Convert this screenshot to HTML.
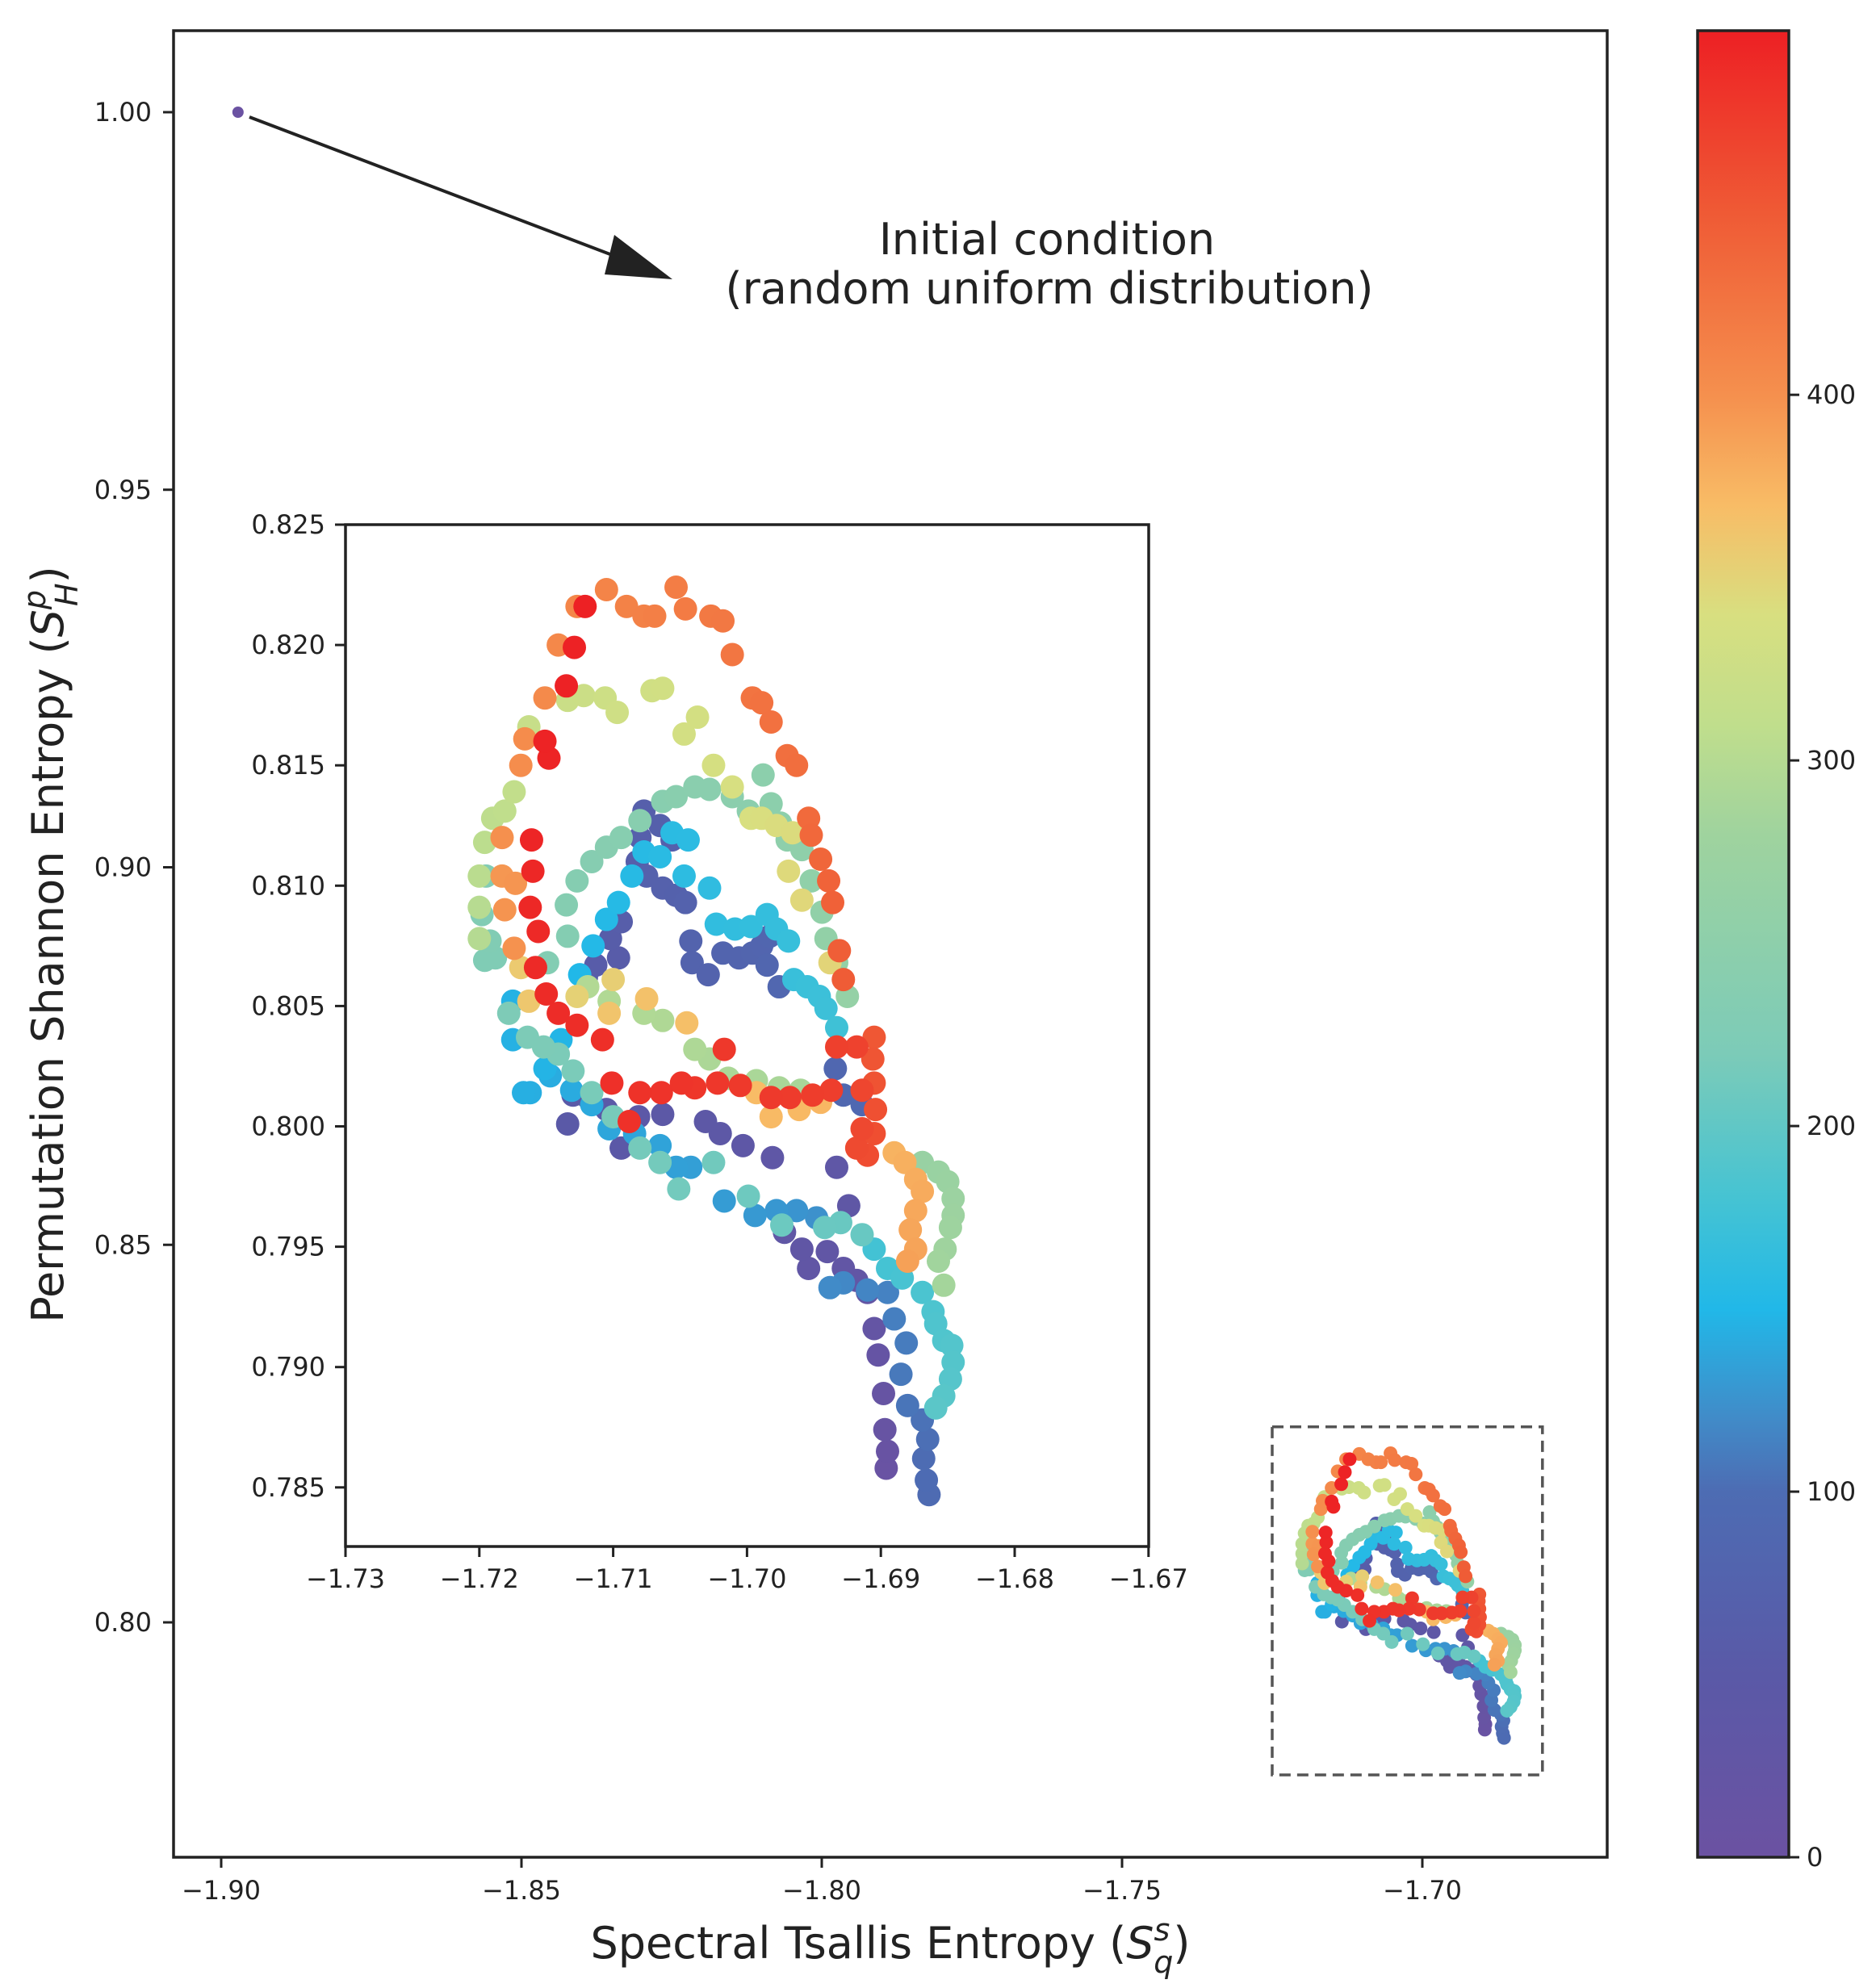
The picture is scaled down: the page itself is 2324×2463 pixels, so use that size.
<!DOCTYPE html>
<html><head><meta charset="utf-8"><style>
html,body{margin:0;padding:0;background:#fff;}
svg{display:block;font-family:"DejaVu Sans","Liberation Sans",sans-serif;}
</style></head><body>
<svg id="fig" width="2324" height="2463" viewBox="0 0 2324 2463" xmlns="http://www.w3.org/2000/svg">
<defs>
<linearGradient id="cbgrad" x1="0" y1="1" x2="0" y2="0">
<stop offset="0" stop-color="#6b52a2"/><stop offset="0.1" stop-color="#5a59a7"/><stop offset="0.2" stop-color="#4d6cb3"/><stop offset="0.24" stop-color="#418bc8"/><stop offset="0.3" stop-color="#21b8e8"/><stop offset="0.36" stop-color="#45c3d3"/><stop offset="0.44" stop-color="#7ccbb8"/><stop offset="0.56" stop-color="#9fd39e"/><stop offset="0.62" stop-color="#c0de8c"/><stop offset="0.68" stop-color="#d8df80"/><stop offset="0.74" stop-color="#f8bc66"/><stop offset="0.8" stop-color="#f5904e"/><stop offset="0.9" stop-color="#ef5a35"/><stop offset="1" stop-color="#ed2024"/>
</linearGradient>
</defs>
<rect x="0" y="0" width="2324" height="2463" fill="#fff"/>
<g id="main"></g>
<g id="inset"></g>
<g id="cbar"></g>
</svg>
<script>
// ---- data (inset-zoom region trajectory; t = time index) ----
const xs = [-1.6896,-1.6895,-1.6897,-1.6898,-1.6902,-1.6905,-1.691,-1.6918,-1.6928,-1.6940,-1.6954,-1.6959,-1.6972,-1.6924,-1.6981,-1.6933,-1.7003,-1.7020,-1.7031,-1.7063,-1.7081,-1.7094,-1.7105,-1.7119,-1.7134,-1.7130,
-1.7120,-1.7113,-1.7096,-1.7102,-1.7094,-1.7082,-1.7080,-1.7077,-1.7065,-1.7056,-1.7075,-1.7063,-1.7053,-1.7046,-1.7042,-1.7041,-1.7029,-1.7018,-1.7006,-1.6996,-1.6989,-1.6983,-1.6985,-1.6976,-1.6934,-1.6928,-1.6914,
-1.6864,-1.6866,-1.6868,-1.6865,-1.6869,-1.6880,-1.6885,-1.6881,-1.6890,-1.6895,-1.6910,-1.6928,-1.6938,
-1.6948,-1.6963,-1.6978,-1.6994,-1.7017,-1.7042,-1.7053,-1.7065,-1.7084,-1.7103,-1.7116,-1.7131,-1.7147,-1.7162,-1.7167,-1.7175,-1.7175,-1.7151,-1.7139,-1.7125,
-1.7115,-1.7105,-1.7096,-1.7086,-1.7077,-1.7065,-1.7056,-1.7044,-1.7047,-1.7028,-1.7023,-1.7009,-1.6997,-1.6985,-1.6978,-1.6969,-1.6965,-1.6955,-1.6946,-1.6941,-1.6933,
-1.6905,-1.6895,-1.6884,-1.6869,-1.6861,-1.6859,-1.6853,-1.6847,-1.6846,-1.6848,-1.6853,-1.6859,
-1.6914,-1.6930,-1.6942,-1.6974,-1.6999,-1.7025,-1.7051,-1.7065,-1.7080,-1.7100,-1.7116,-1.7130,-1.7141,-1.7152,-1.7164,-1.7178,-1.7196,-1.7188,-1.7192,-1.7198,-1.7195,
-1.7149,-1.7134,-1.7135,-1.7127,-1.7116,-1.7105,-1.7094,-1.7080,-1.7063,-1.7053,-1.7039,-1.7028,-1.7011,-1.6999,-1.6988,-1.6982,-1.6975,-1.6970,-1.6959,-1.6952,-1.6944,-1.6941,-1.6933,-1.6925,
-1.6869,-1.6857,-1.6850,-1.6846,-1.6846,-1.6848,-1.6852,-1.6857,-1.6853,
-1.6960,-1.6976,-1.6993,-1.7014,-1.7028,-1.7039,-1.7063,-1.7077,-1.7103,-1.7119,
-1.7200,-1.7200,-1.7200,-1.7196,-1.7190,-1.7181,-1.7174,
-1.7163,-1.7134,-1.7122,-1.7106,-1.7097,-1.7071,-1.7063,-1.7047,-1.7037,-1.7025,-1.7011,-1.6997,-1.6989,-1.6978,-1.6966,-1.6969,-1.6959,-1.6938,-1.7127,-1.7100,
-1.7169,-1.7163,-1.7103,-1.7075,-1.7045,-1.6993,-1.6982,-1.6961,-1.6945,-1.6890,-1.6882,-1.6874,-1.6869,-1.6874,-1.6878,-1.6874,-1.6880,
-1.7183,-1.7173,-1.7181,-1.7174,-1.7183,-1.7169,-1.7166,-1.7151,-1.7141,-1.7127,-1.7105,-1.7090,-1.7077,-1.7069,-1.7053,-1.7046,-1.7027,-1.7018,-1.7011,-1.6996,-1.6989,-1.6982,-1.6970,-1.6963,
-1.6954,-1.6952,-1.6945,-1.6939,-1.6936,-1.6931,-1.6928,-1.6905,-1.6906,-1.6905,-1.6904,-1.6905,-1.6910,-1.6918,-1.6914,-1.6914,
-1.6918,-1.6933,-1.6937,-1.6951,-1.6968,-1.6982,-1.7005,-1.7017,-1.7022,-1.7039,-1.7049,-1.7064,-1.7080,-1.7088,-1.7101,-1.7108,-1.7127,-1.7141,-1.7150,-1.7158,-1.7156,-1.7162,-1.7160,-1.7161,-1.7148,-1.7151,-1.7135,-1.7129,-1.7121];
const ys = [0.7858,0.7865,0.7874,0.7889,0.7905,0.7916,0.7931,0.7936,0.7941,0.7948,0.7941,0.7949,0.7956,0.7967,0.7987,0.7983,0.7992,0.7997,0.8002,0.8005,0.8004,0.7991,0.8007,0.8012,0.8001,0.8013,
0.8062,0.8067,0.8070,0.8078,0.8085,0.8110,0.8120,0.8131,0.8125,0.8119,0.8104,0.8099,0.8096,0.8093,0.8077,0.8068,0.8063,0.8072,0.8070,0.8072,0.8075,0.8079,0.8067,0.8058,0.8024,0.8013,0.8009,
0.7847,0.7853,0.7862,0.7870,0.7878,0.7884,0.7897,0.7910,0.7920,0.7931,0.7932,0.7935,0.7933,
0.7962,0.7965,0.7965,0.7963,0.7969,0.7983,0.7983,0.7992,0.7997,0.7999,0.8009,0.8015,0.8021,0.8014,0.8014,0.8036,0.8052,0.8024,0.8036,0.8063,
0.8075,0.8086,0.8093,0.8104,0.8114,0.8112,0.8122,0.8119,0.8104,0.8099,0.8084,0.8082,0.8083,0.8088,0.8082,0.8077,0.8061,0.8058,0.8054,0.8049,0.8041,
0.7949,0.7941,0.7937,0.7931,0.7923,0.7918,0.7911,0.7909,0.7902,0.7895,0.7888,0.7883,
0.7955,0.7960,0.7958,0.7959,0.7971,0.7985,0.7974,0.7985,0.7991,0.8004,0.8014,0.8023,0.8030,0.8033,0.8037,0.8047,0.8069,0.8070,0.8077,0.8088,0.8104,
0.8068,0.8079,0.8092,0.8102,0.8110,0.8116,0.8120,0.8127,0.8135,0.8137,0.8141,0.8140,0.8137,0.8131,0.8146,0.8134,0.8126,0.8119,0.8115,0.8102,0.8089,0.8078,0.8068,0.8054,
0.7985,0.7981,0.7977,0.7970,0.7963,0.7958,0.7949,0.7944,0.7934,
0.8015,0.8016,0.8019,0.8020,0.8028,0.8032,0.8044,0.8047,0.8052,0.8058,
0.8078,0.8091,0.8104,0.8118,0.8128,0.8131,0.8139,
0.8166,0.8177,0.8179,0.8178,0.8172,0.8181,0.8182,0.8163,0.8170,0.8150,0.8141,0.8128,0.8128,0.8125,0.8122,0.8106,0.8094,0.8068,0.8054,0.8061,
0.8066,0.8052,0.8047,0.8053,0.8043,0.8014,0.8004,0.8007,0.8010,0.7989,0.7985,0.7978,0.7973,0.7965,0.7957,0.7949,0.7944,
0.8104,0.8101,0.8090,0.8074,0.8120,0.8150,0.8161,0.8178,0.8200,0.8216,0.8223,0.8216,0.8212,0.8212,0.8224,0.8215,0.8212,0.8210,0.8196,0.8178,0.8176,0.8168,0.8154,0.8150,
0.8128,0.8121,0.8111,0.8102,0.8093,0.8073,0.8061,0.8037,0.8028,0.8018,0.8007,0.7997,0.7988,0.7991,0.7999,0.8015,
0.8033,0.8033,0.8015,0.8013,0.8012,0.8012,0.8017,0.8032,0.8018,0.8016,0.8018,0.8014,0.8014,0.8002,0.8018,0.8036,0.8042,0.8047,0.8055,0.8066,0.8081,0.8091,0.8106,0.8119,0.8153,0.8160,0.8183,0.8199,0.8216];
const ts = [5,8,11,14,17,20,23,25,27,29,30,31,33,34,35,36,38,40,42,44,45,46,47,48,49,50,
55,57,59,60,62,64,65,66,68,69,70,71,72,73,75,76,77,79,80,81,82,83,84,86,88,89,90,
96,98,100,102,104,106,108,110,112,114,116,118,120,
124,126,128,129,131,133,134,136,137,138,140,141,142,143,144,145,146,147,148,150,
152,153,154,155,156,157,158,159,160,162,163,164,165,166,167,168,170,171,172,173,175,
178,180,182,184,186,187,188,190,191,192,194,196,
205,206,207,208,210,212,213,214,215,217,218,219,220,221,222,223,226,227,228,229,230,
232,234,235,236,237,238,239,240,241,242,243,244,245,246,247,248,249,250,252,254,256,258,260,262,
268,270,272,274,276,278,280,282,284,
288,289,290,291,292,293,294,295,296,297,
300,302,304,306,308,310,312,
318,322,324,326,328,330,331,333,334,336,338,340,341,342,343,345,347,349,352,354,
358,360,363,365,367,370,371,372,373,376,378,380,381,383,385,386,388,
395,396,397,398,400,402,403,405,407,409,411,413,414,415,417,419,421,422,424,426,427,428,430,431,
435,437,439,441,443,446,448,452,454,456,458,460,462,463,465,467,
470,472,474,475,476,477,478,479,480,481,482,483,484,485,486,487,488,489,490,491,492,493,494,495,496,497,498,498,499];
const initX = -1.8972, initY = 1.0, initT = 0;
const mainXTicks = [-1.90,-1.85,-1.80,-1.75,-1.70];
const mainYTicks = [0.80,0.85,0.90,0.95,1.00];
const insetXTicks = [-1.73,-1.72,-1.71,-1.70,-1.69,-1.68,-1.67];
const insetYTicks = [0.785,0.790,0.795,0.800,0.805,0.810,0.815,0.820,0.825];
const cbarTicks = [0,100,200,300,400];
const boxX = [-1.725,-1.680], boxY = [0.7798,0.8259];
const tMin = 0, tMax = 499.6;

// colormap (approx. Spectral_r as rendered)
const cstops = [[0,[107,82,162]],[0.1,[90,89,167]],[0.2,[77,108,179]],[0.24,[65,139,200]],[0.3,[33,184,232]],[0.36,[69,195,211]],[0.44,[124,203,184]],[0.56,[159,211,158]],[0.62,[192,222,140]],[0.68,[216,223,128]],[0.74,[248,188,102]],[0.8,[245,144,78]],[0.9,[239,90,53]],[1,[237,32,36]]];
function cmap(t){
  let f=(t-tMin)/(tMax-tMin); f=Math.max(0,Math.min(1,f));
  for(let i=1;i<cstops.length;i++){
    if(f<=cstops[i][0]){
      const a=cstops[i-1],b=cstops[i],u=(f-a[0])/(b[0]-a[0]);
      const c=a[1].map((v,k)=>Math.round(v+(b[1][k]-v)*u));
      return 'rgb('+c.join(',')+')';
    }
  }
  return 'rgb(237,32,36)';
}
const NS='http://www.w3.org/2000/svg';
function mk(tag,attrs,parent){const e=document.createElementNS(NS,tag);for(const k in attrs)e.setAttribute(k,attrs[k]);parent.appendChild(e);return e;}
const fmtMinus=s=>s.replace('-','\u2212');

// ---- main axes ----
const M={l:215,r:1991,t:38,b:2301};
const mx=v=>274+(v+1.90)/0.05*372;
const my=v=>139+(1.00-v)/0.05*467.75;
const gM=document.getElementById('main');
// dashed box
const dbox=mk('rect',{x:mx(boxX[0]),y:my(boxY[1]),width:mx(boxX[1])-mx(boxX[0]),height:my(boxY[0])-my(boxY[1]),fill:'none',stroke:'#555','stroke-width':3.5,'stroke-dasharray':'14,8'},gM);


// points
const ip=mk('circle',{cx:mx(initX),cy:my(initY),r:7,fill:cmap(initT)},gM);


for(let i=0;i<xs.length;i++){
  const c=mk('circle',{cx:mx(xs[i]),cy:my(ys[i]),r:8.5,fill:cmap(ts[i])},gM);
  
  
}
// frame
const mf=mk('rect',{x:M.l,y:M.t,width:M.r-M.l,height:M.b-M.t,fill:'none',stroke:'#222','stroke-width':3.5},gM);


mainXTicks.forEach(v=>{
  const x=mx(v);
  mk('line',{x1:x,y1:M.b,x2:x,y2:M.b+13,stroke:'#222','stroke-width':3},gM);
  const t=mk('text',{x:x,y:2353,'font-size':32,'text-anchor':'middle',fill:'#222'},gM);
  t.textContent=fmtMinus(v.toFixed(2));
  
  
});
mainYTicks.forEach(v=>{
  const y=my(v);
  mk('line',{x1:M.l-13,y1:y,x2:M.l,y2:y,stroke:'#222','stroke-width':3},gM);
  const t=mk('text',{x:188,y:y+11,'font-size':32,'text-anchor':'end',fill:'#222'},gM);
  t.textContent=v.toFixed(2);
  
  
});
// arrow
const arr=mk('g',{},gM);


mk('line',{x1:309,y1:145,x2:790,y2:328,stroke:'#222','stroke-width':4},arr);
mk('polygon',{points:'833,346 761,291 749,340',fill:'#222'},arr);

// ---- inset ----
const I={l:428,r:1423,t:650,b:1916};
const ix=v=>428+(v+1.73)/0.01*165.8;
const iy=v=>650+(0.825-v)/0.005*149.1;
const gI=document.getElementById('inset');
const ibg=mk('rect',{x:I.l,y:I.t,width:I.r-I.l,height:I.b-I.t,fill:'#fff'},gI);


for(let i=0;i<xs.length;i++){
  const c=mk('circle',{cx:ix(xs[i]),cy:iy(ys[i]),r:14.5,fill:cmap(ts[i])},gI);
  
  
}
const ifr=mk('rect',{x:I.l,y:I.t,width:I.r-I.l,height:I.b-I.t,fill:'none',stroke:'#222','stroke-width':3.5},gI);


insetXTicks.forEach(v=>{
  const x=ix(v);
  mk('line',{x1:x,y1:I.b,x2:x,y2:I.b+13,stroke:'#222','stroke-width':3},gI);
  const t=mk('text',{x:x,y:1967,'font-size':32,'text-anchor':'middle',fill:'#222'},gI);
  t.textContent=fmtMinus(v.toFixed(2));
  
  
});
insetYTicks.forEach(v=>{
  const y=iy(v);
  mk('line',{x1:I.l-13,y1:y,x2:I.l,y2:y,stroke:'#222','stroke-width':3},gI);
  const t=mk('text',{x:403,y:y+11,'font-size':32,'text-anchor':'end',fill:'#222'},gI);
  t.textContent=v.toFixed(3);
  
  
});

// ---- colorbar ----
const C={l:2103,r:2216,t:38,b:2301};
const cy=v=>C.b-(v-tMin)/(tMax-tMin)*(C.b-C.t);
const gC=document.getElementById('cbar');
mk('rect',{x:C.l,y:C.t,width:C.r-C.l,height:C.b-C.t,fill:'url(#cbgrad)',stroke:'#222','stroke-width':3.5},gC);
cbarTicks.forEach(v=>{
  const y=cy(v);
  mk('line',{x1:C.r,y1:y,x2:C.r+13,y2:y,stroke:'#222','stroke-width':3},gC);
  const t=mk('text',{x:2238,y:y+11,'font-size':32,fill:'#222'},gC);
  t.textContent=String(v);
  
  
});
</script>
<svg width="0" height="0" style="position:absolute"></svg>
<script>
(function(){
const NS='http://www.w3.org/2000/svg';
const svg=document.getElementById('fig');
const g=document.createElementNS(NS,'g');svg.appendChild(g);
g.innerHTML=
'<text x="1297" y="315" font-size="54" text-anchor="middle" fill="#222">Initial condition</text>'+
'<text x="1300" y="376" font-size="54" text-anchor="middle" fill="#222">(random uniform distribution)</text>'+
'<text x="1103" y="2426" font-size="54" text-anchor="middle" fill="#222">Spectral Tsallis Entropy (<tspan font-style="italic">S</tspan><tspan font-size="38" font-style="italic" dy="-22">s</tspan><tspan font-size="38" font-style="italic" dx="-20" dy="40">q</tspan><tspan dy="-18">)</tspan></text>'+
'<text transform="translate(78,1170) rotate(-90)" font-size="54" text-anchor="middle" fill="#222">Permutation Shannon Entropy (<tspan font-style="italic">S</tspan><tspan font-size="38" font-style="italic" dy="-22">p</tspan><tspan font-size="38" font-style="italic" dx="-20" dy="40">H</tspan><tspan dy="-18">)</tspan></text>';
})();
</script>
</body></html>
